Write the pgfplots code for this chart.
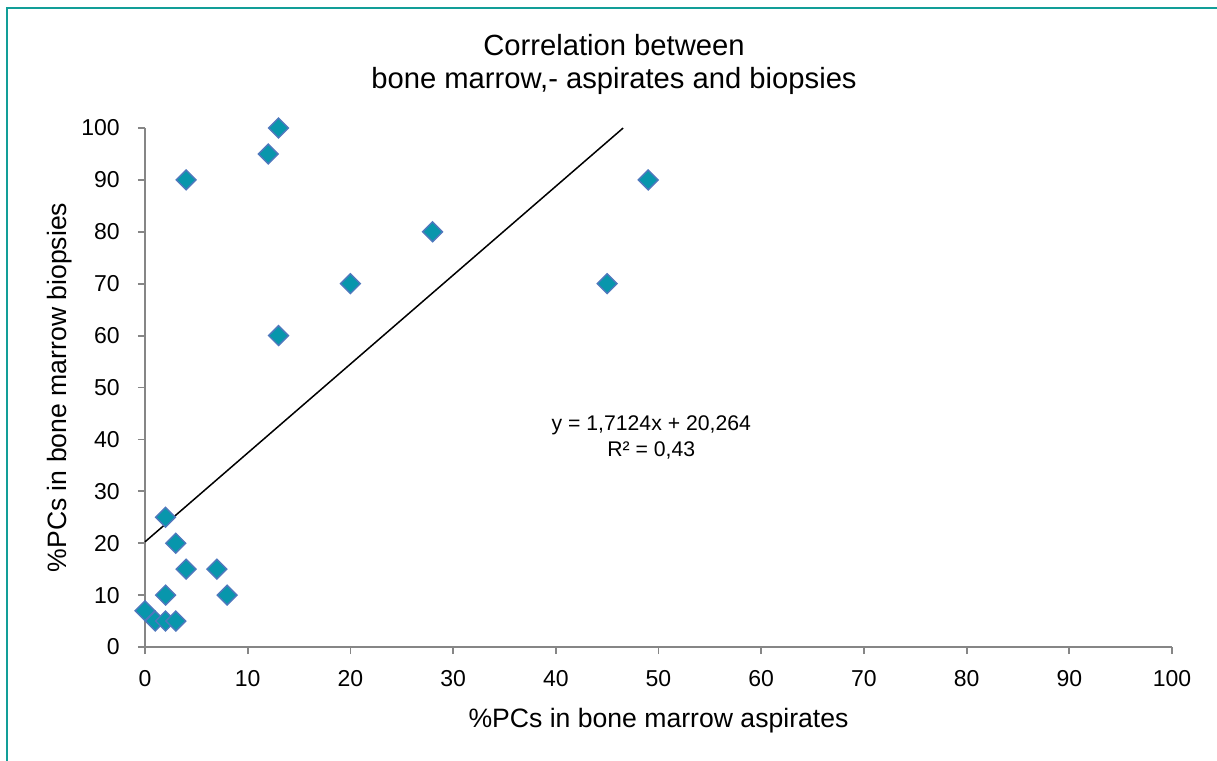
\documentclass[border=0pt]{standalone}
\usepackage{pgfplots}
\pgfplotsset{compat=1.18}
\usepackage{fontspec}
\setmainfont{Liberation Sans}
\definecolor{frameteal}{RGB}{18,158,152}
\definecolor{axisgray}{RGB}{134,134,134}
\definecolor{markfill}{RGB}{8,150,172}
\definecolor{markedge}{RGB}{79,120,189}
\begin{document}
\begin{tikzpicture}
\path[use as bounding box] (0,0) rectangle (608.5pt,380.5pt);
\fill[white] (0,0) rectangle (608.5pt,380.5pt);
\draw[frameteal, line width=1.1pt] (3.6pt,0) -- (3.6pt,376.4pt) -- (608.5pt,376.4pt);
\begin{axis}[
  at={(72.5pt,57pt)}, anchor=south west,
  scale only axis, width=513.5pt, height=259.5pt,
  xmin=0, xmax=100, ymin=0, ymax=100,
  axis lines*=left,
  axis line style={axisgray, line width=0.9pt},
  xtick={0,10,...,100}, ytick={0,10,...,100},
  tick align=outside, tick style={axisgray, line width=0.9pt},
  major tick length=3.6pt,
  /pgf/number format/assume math mode=true,
  ticklabel style={font=\fontsize{11.5}{13}\selectfont},
  xticklabel style={yshift=-4.5pt},
  yticklabel style={xshift=-5.5pt},
  xlabel={\%PCs in bone marrow aspirates},
  ylabel={\%PCs in bone marrow biopsies},
  label style={font=\fontsize{13.3}{15}\selectfont},
  xlabel style={at={(axis description cs:0.5,0)}, anchor=center, yshift=-37pt},
  ylabel style={at={(axis description cs:0,0.5)}, anchor=center, rotate=0, yshift=42.5pt},
  title={Correlation between\\bone marrow,- aspirates and biopsies},
  title style={at={(axis description cs:0.4567,1)}, anchor=center, yshift=25.75pt, align=center, font=\fontsize{14.6}{16.5}\selectfont},
  clip=false,
]
\addplot[black, line width=0.75pt] coordinates {(0,20.264) (46.56,100)};
\addplot[only marks, mark=square*, mark size=3.5pt,
  mark options={rotate=45, fill=markfill, draw=markedge, line width=0.7pt}]
  coordinates {
  (0,7) (1,5) (2,5) (3,5) (2,10) (2,25) (3,20) (4,15) (7,15) (8,10)
  (4,90) (12,95) (13,100) (13,60) (20,70) (28,80) (45,70) (49,90)
  };
\node[align=center, font=\fontsize{10.6}{13}\selectfont] at (axis cs:49.3,40.3) {y = 1,7124x + 20,264\\R² = 0,43};
\end{axis}
\end{tikzpicture}
\end{document}
